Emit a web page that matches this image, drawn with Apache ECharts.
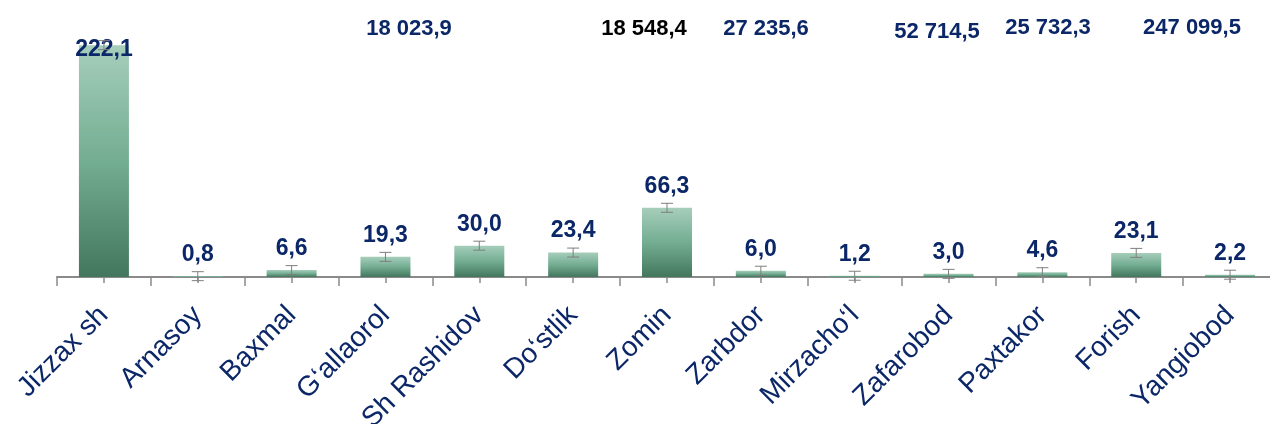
<!DOCTYPE html>
<html>
<head>
<meta charset="utf-8">
<script src="https://cdn.jsdelivr.net/npm/echarts@6/dist/echarts.min.js"></script>
<style>
  html, body { margin: 0; padding: 0; background: #ffffff; }
  #chart { width: 1270px; height: 424px; }
</style>
</head>
<body>
<div id="chart"></div>
<script>
// District names along the x axis
const categories = ['Jizzax sh', 'Arnasoy', 'Baxmal', 'G‘allaorol', 'Sh Rashidov', 'Do‘stlik', 'Zomin',
  'Zarbdor', 'Mirzacho‘l', 'Zafarobod', 'Paxtakor', 'Forish', 'Yangiobod'];
// Bar values per district
const values = [222.1, 0.8, 6.6, 19.3, 30.0, 23.4, 66.3, 6.0, 1.2, 3.0, 4.6, 23.1, 2.2];
// Half-width of each error bar
const errors = [4.3, 4.3, 4.3, 4.3, 4.3, 4.3, 4.3, 4.3, 4.3, 4.3, 4.3, 4.3, 4.3];
// Totals printed along the top
const topNotes = ['18 023,9', '18 548,4', '27 235,6', '52 714,5', '25 732,3', '247 099,5'];

const NAVY = '#0b2767';
const FONT = '"Liberation Sans", Arial, sans-serif';
const fmt = v => v.toFixed(1).replace('.', ',');

// where each top note sits: [centre x, centre y, colour]
const noteLayout = [
  [409, 29, NAVY], [644, 29, '#000000'], [766, 29, NAVY],
  [937, 32, NAVY], [1048, 28, NAVY], [1192, 28, NAVY]
];

const chart = echarts.init(document.getElementById('chart'), null, { renderer: 'canvas' });

const barGradient = new echarts.graphic.LinearGradient(0, 0, 0, 1, [
  { offset: 0, color: '#a6cebb' },
  { offset: 0.5, color: '#73ad92' },
  { offset: 1, color: '#43775d' }
]);

// the tallest bar carries its label across its own top edge
const barData = values.map((v, i) => {
  const item = { value: v };
  if (i === 0) item.label = { offset: [0, 26] };
  return item;
});

const errData = values.map((v, i) => [i, v - errors[i], v + errors[i]]);

chart.setOption({
  animation: false,
  backgroundColor: '#ffffff',
  grid: { left: 57, right: -7, top: 16, bottom: 147, containLabel: false, outerBoundsMode: 'none' },
  xAxis: [
    {
      type: 'category',
      data: categories,
      axisLine: { show: true, lineStyle: { color: '#8a8a8a', width: 2 } },
      axisTick: { show: true, alignWithLabel: false, length: 9, lineStyle: { color: '#8a8a8a', width: 1.5 } },
      axisLabel: {
        interval: 0,
        rotate: 45,
        margin: 34,
        color: NAVY,
        fontFamily: FONT,
        fontSize: 28
      }
    },
    {
      type: 'category',
      data: categories,
      position: 'bottom',
      axisLine: { show: false },
      axisTick: { show: true, alignWithLabel: true, length: 6, lineStyle: { color: '#8a8a8a', width: 1.5 } },
      axisLabel: { show: false }
    }
  ],
  yAxis: {
    type: 'value',
    min: 0,
    max: 250,
    show: false,
    splitLine: { show: false }
  },
  series: [
    {
      type: 'bar',
      xAxisIndex: 0,
      data: barData,
      barWidth: 50,
      itemStyle: { color: barGradient },
      label: {
        show: true,
        position: 'top',
        distance: 10,
        color: NAVY,
        fontFamily: FONT,
        fontWeight: 'bold',
        fontSize: 23,
        formatter: p => fmt(p.value)
      },
      z: 2
    },
    {
      type: 'custom',
      xAxisIndex: 0,
      data: errData,
      encode: { x: 0, y: [1, 2] },
      renderItem: (params, api) => {
        const x = api.value(0);
        const lo = api.coord([x, api.value(1)]);
        const hi = api.coord([x, api.value(2)]);
        const cap = 6;
        const style = { stroke: '#7f7f7f', lineWidth: 1 };
        return {
          type: 'group',
          children: [
            { type: 'line', shape: { x1: lo[0], y1: lo[1], x2: hi[0], y2: hi[1] }, style },
            { type: 'line', shape: { x1: lo[0] - cap, y1: lo[1], x2: lo[0] + cap, y2: lo[1] }, style },
            { type: 'line', shape: { x1: hi[0] - cap, y1: hi[1], x2: hi[0] + cap, y2: hi[1] }, style }
          ]
        };
      },
      z: 3
    }
  ],
  graphic: topNotes.map((t, i) => ({
    type: 'text',
    x: noteLayout[i][0],
    y: noteLayout[i][1],
    style: {
      text: t,
      fill: noteLayout[i][2],
      font: 'bold 22px ' + FONT,
      align: 'center',
      verticalAlign: 'middle'
    }
  }))
});
</script>
</body>
</html>
